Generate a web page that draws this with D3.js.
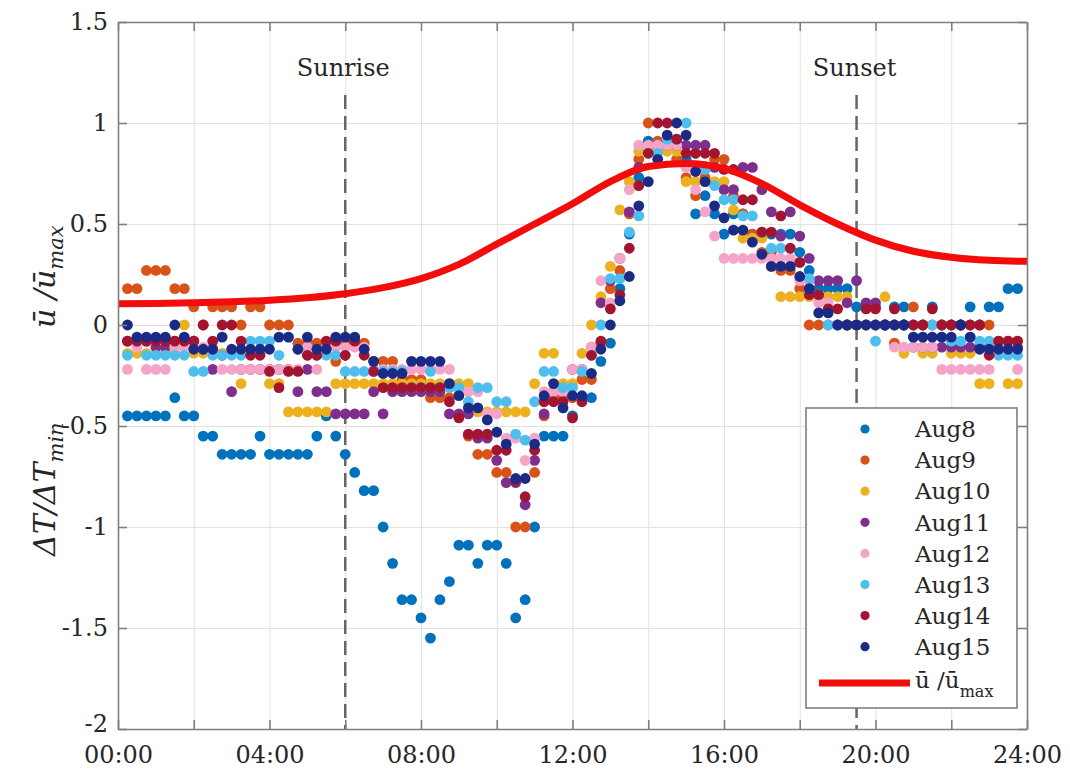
<!DOCTYPE html>
<html>
<head>
<meta charset="utf-8">
<script src="https://cdn.jsdelivr.net/npm/d3@7"></script>
<style>
  body { margin: 0; background: #fff; }
  svg { display: block; }
</style>
</head>
<body>
<svg id="chart" width="1070" height="772"></svg>
<script>
// Sampling grid: 15-minute readings from 00:15 to 23:45 (hours of day)
const hours = d3.range(1, 96).map(i => i / 4);

// Normalised temperature difference ΔT/ΔTmin for each day
const aug8 = [
  -0.45,-0.45,-0.45,-0.45,-0.45,-0.36,-0.45,-0.45,-0.55,-0.55,
  -0.64,-0.64,-0.64,-0.64,-0.55,-0.64,-0.64,-0.64,-0.64,-0.64,
  -0.55,-0.45,-0.55,-0.64,-0.73,-0.82,-0.82,-1.00,-1.18,-1.36,
  -1.36,-1.45,-1.55,-1.36,-1.27,-1.09,-1.09,-1.18,-1.09,-1.09,
  -1.18,-1.45,-1.36,-1.00,-0.55,-0.55,-0.55,-0.45,-0.36,-0.36,
  -0.18,-0.09,0.18,0.45,0.73,0.91,0.86,0.91,0.91,0.82,
  0.55,0.64,0.55,0.45,0.55,0.55,0.45,0.45,0.45,0.45,
  0.45,0.36,0.27,0.18,0.18,0.18,0.18,0.09,0.09,0.09,
  0.00,0.09,0.09,0.00,0.00,0.09,0.00,0.00,0.00,0.09,
  0.00,0.09,0.09,0.18,0.18
];
const aug9 = [
  0.18,0.18,0.27,0.27,0.27,0.18,0.18,0.09,0.00,0.09,
  0.09,0.09,0.00,0.09,0.09,0.00,0.00,0.00,-0.09,-0.09,
  -0.09,-0.09,-0.18,-0.09,-0.09,-0.09,-0.18,-0.18,-0.18,-0.27,
  -0.27,-0.27,-0.36,-0.36,-0.36,-0.45,-0.55,-0.64,-0.64,-0.73,
  -0.73,-1.00,-1.00,-0.73,-0.45,-0.36,-0.36,-0.36,-0.27,-0.27,
  -0.09,0.18,0.27,0.55,0.82,1.00,0.91,0.91,0.82,0.73,
  0.64,0.73,0.82,0.82,0.64,0.55,0.45,0.36,0.36,0.27,
  0.27,0.18,0.00,0.00,0.00,0.00,0.00,0.00,0.00,0.00,
  0.00,-0.09,0.00,0.09,0.00,0.00,0.00,0.00,0.00,0.00,
  0.00,0.00,-0.08,-0.08,-0.08
];
const aug10 = [
  -0.14,-0.14,-0.14,-0.14,-0.14,-0.14,0.00,-0.14,-0.14,-0.14,
  -0.14,-0.14,-0.29,-0.14,-0.14,-0.29,-0.29,-0.43,-0.43,-0.43,
  -0.43,-0.43,-0.29,-0.29,-0.29,-0.29,-0.29,-0.29,-0.29,-0.29,
  -0.29,-0.29,-0.29,-0.29,-0.29,-0.29,-0.29,-0.43,-0.43,-0.43,
  -0.43,-0.43,-0.43,-0.29,-0.14,-0.14,-0.29,-0.29,-0.14,0.00,
  0.14,0.29,0.57,0.71,0.86,0.86,0.86,0.86,0.86,0.71,
  0.71,0.71,0.71,0.71,0.57,0.43,0.43,0.43,0.29,0.14,
  0.14,0.14,0.14,0.14,0.14,0.14,0.14,0.00,0.00,0.00,
  0.14,0.00,-0.14,0.00,-0.14,-0.14,0.00,-0.14,-0.14,-0.14,
  -0.29,-0.29,-0.14,-0.29,-0.29
];
const aug11 = [
  -0.08,-0.08,-0.08,-0.11,-0.11,-0.08,-0.08,-0.08,-0.12,-0.22,
  -0.15,-0.33,-0.22,-0.22,-0.22,-0.22,-0.22,-0.22,-0.33,-0.22,
  -0.33,-0.33,-0.44,-0.44,-0.44,-0.44,-0.33,-0.44,-0.33,-0.33,
  -0.33,-0.33,-0.33,-0.33,-0.44,-0.44,-0.44,-0.56,-0.56,-0.67,
  -0.78,-0.78,-0.89,-0.67,-0.44,-0.33,-0.33,-0.22,-0.22,-0.11,
  0.11,0.22,0.33,0.56,0.78,0.89,0.89,0.89,0.89,0.89,
  0.89,0.89,0.78,0.67,0.67,0.78,0.78,0.67,0.56,0.44,
  0.56,0.44,0.33,0.22,0.22,0.22,0.11,0.22,0.11,0.11,
  0.00,0.00,0.00,-0.11,-0.11,-0.11,-0.11,-0.11,-0.11,-0.11,
  -0.11,-0.11,-0.11,-0.11,-0.11
];
const aug12 = [
  -0.22,-0.11,-0.22,-0.22,-0.22,-0.11,-0.11,-0.11,-0.11,-0.11,
  -0.22,-0.22,-0.22,-0.22,-0.22,-0.22,-0.22,-0.22,-0.22,-0.11,
  -0.22,-0.11,-0.11,-0.11,-0.11,-0.11,-0.22,-0.22,-0.22,-0.22,
  -0.22,-0.22,-0.22,-0.22,-0.22,-0.33,-0.33,-0.33,-0.44,-0.44,
  -0.56,-0.56,-0.67,-0.56,-0.33,-0.33,-0.33,-0.22,-0.22,-0.11,
  0.22,0.11,0.33,0.67,0.89,0.89,0.89,0.89,0.89,0.78,
  0.67,0.56,0.44,0.33,0.33,0.33,0.33,0.33,0.33,0.33,
  0.33,0.22,0.22,0.11,0.11,0.00,0.00,0.00,0.00,0.00,
  0.00,-0.11,-0.11,-0.11,-0.11,-0.11,-0.22,-0.22,-0.22,-0.22,
  -0.22,-0.22,-0.11,-0.11,-0.22
];
const aug13 = [
  -0.15,-0.08,-0.15,-0.15,-0.15,-0.15,-0.15,-0.23,-0.23,-0.15,
  -0.15,-0.15,-0.15,-0.08,-0.08,-0.08,-0.15,-0.06,-0.12,-0.15,
  -0.15,-0.15,-0.15,-0.23,-0.23,-0.23,-0.23,-0.23,-0.23,-0.23,
  -0.31,-0.31,-0.23,-0.31,-0.31,-0.31,-0.38,-0.31,-0.31,-0.38,
  -0.38,-0.54,-0.57,-0.38,-0.23,-0.23,-0.31,-0.31,-0.23,-0.15,
  0.00,0.23,0.23,0.46,0.54,0.85,0.85,0.92,0.92,1.00,
  0.85,0.77,0.69,0.62,0.62,0.54,0.54,0.46,0.38,0.38,
  0.38,0.31,0.23,0.15,0.00,0.00,0.00,0.00,0.00,-0.08,
  0.00,0.00,0.00,-0.06,-0.06,0.00,-0.06,-0.08,-0.08,-0.06,
  -0.08,-0.08,-0.15,-0.15,-0.15
];
const aug14 = [
  -0.08,-0.08,-0.08,-0.08,-0.08,-0.08,-0.08,-0.08,0.00,-0.08,
  0.00,0.00,-0.08,-0.15,-0.15,-0.23,-0.31,-0.23,-0.23,-0.15,
  -0.15,-0.08,-0.08,-0.15,-0.08,-0.15,-0.23,-0.31,-0.31,-0.31,
  -0.31,-0.31,-0.31,-0.31,-0.38,-0.46,-0.54,-0.54,-0.54,-0.62,
  -0.62,-0.77,-0.85,-0.62,-0.38,-0.38,-0.38,-0.46,-0.38,-0.15,
  -0.08,0.08,0.15,0.38,0.69,0.85,1.00,1.00,0.92,0.85,
  0.85,0.85,0.85,0.77,0.77,0.62,0.62,0.46,0.46,0.54,
  0.38,0.31,0.15,0.15,0.08,0.08,0.00,0.00,0.08,0.08,
  0.00,0.08,0.00,0.00,0.00,0.08,0.00,0.00,0.00,0.00,
  0.00,-0.15,-0.08,-0.08,-0.08
];
const aug15 = [
  0.00,-0.06,-0.06,-0.06,-0.06,0.00,-0.06,-0.12,-0.12,-0.12,
  -0.06,-0.12,-0.12,-0.12,-0.12,-0.12,-0.06,-0.06,-0.12,-0.06,
  -0.12,-0.12,-0.06,-0.06,-0.06,-0.12,-0.18,-0.24,-0.24,-0.24,
  -0.18,-0.18,-0.18,-0.18,-0.29,-0.35,-0.41,-0.41,-0.47,-0.53,
  -0.59,-0.76,-0.76,-0.59,-0.35,-0.29,-0.41,-0.35,-0.35,-0.24,
  -0.12,0.00,0.12,0.24,0.59,0.71,0.82,0.94,1.00,0.94,
  0.76,0.71,0.59,0.53,0.47,0.47,0.41,0.35,0.29,0.29,
  0.29,0.24,0.18,0.06,0.06,0.00,0.00,0.00,0.00,0.00,
  0.00,0.00,0.00,-0.06,-0.06,-0.06,-0.06,-0.06,0.00,-0.06,
  -0.12,-0.12,-0.12,-0.12,-0.12
];

const dayNames  = ["Aug8", "Aug9", "Aug10", "Aug11", "Aug12", "Aug13", "Aug14", "Aug15"];
const dayValues = [aug8, aug9, aug10, aug11, aug12, aug13, aug14, aug15];
const dayColors = ["#0072BD", "#D95319", "#EDB120", "#7E2F8E", "#F5A3C7", "#4DBEEE", "#A2142F", "#1B2A84"];

// Mean wind speed normalised by its maximum, hourly
const windHours = d3.range(0, 25);
const windRatio = [
  0.105, 0.107, 0.110, 0.115, 0.123, 0.135, 0.155, 0.185, 0.230, 0.300,
  0.400, 0.500, 0.600, 0.710, 0.785, 0.800, 0.775, 0.700, 0.595, 0.500,
  0.420, 0.365, 0.335, 0.320, 0.315
];

// Axes ticks
const xTickHours  = d3.range(0, 25, 2);
const xLabelHours = [0, 4, 8, 12, 16, 20, 24];
const yTicks      = [-2, -1.5, -1, -0.5, 0, 0.5, 1, 1.5];

// Sunrise / sunset markers (hour of day)
const sunEvents = [{ label: "Sunrise", hour: 6 }, { label: "Sunset", hour: 19.5 }];

const FONT = "'DejaVu Serif', 'Liberation Serif', serif";
const AXIS_COLOR = "#7f7f7f";
const TEXT_COLOR = "#262626";

const svg = d3.select("#chart");
const plotLeft = 118, plotRight = 1027, plotTop = 22, plotBottom = 729;

const x = d3.scaleLinear().domain([0, 24]).range([plotLeft, plotRight]);
const y = d3.scaleLinear().domain([-2, 1.5]).range([plotBottom, plotTop]);

// Grid lines
const gridX = svg.append("g").attr("transform", `translate(0,${plotBottom})`)
  .call(d3.axisBottom(x).tickValues(xTickHours).tickSize(-(plotBottom - plotTop)).tickFormat(""));
const gridY = svg.append("g").attr("transform", `translate(${plotLeft},0)`)
  .call(d3.axisLeft(y).tickValues(yTicks).tickSize(-(plotRight - plotLeft)).tickFormat(""));
[gridX, gridY].forEach(g => {
  g.select(".domain").remove();
  g.selectAll(".tick line").attr("stroke", "#e2e2e2").attr("stroke-width", 1);
});

// Sunrise / sunset dashed lines and labels
svg.append("g").selectAll("line").data(sunEvents).join("line")
  .attr("x1", d => x(d.hour)).attr("x2", d => x(d.hour))
  .attr("y1", 95).attr("y2", plotBottom)
  .attr("stroke", "#666").attr("stroke-width", 2.5)
  .attr("stroke-dasharray", "14,7");
svg.append("g").selectAll("text").data(sunEvents).join("text")
  .attr("x", d => x(d.hour) - 2).attr("y", 76)
  .attr("text-anchor", "middle")
  .attr("font-family", FONT).attr("font-size", 24).attr("fill", TEXT_COLOR)
  .text(d => d.label);

// Scatter of daily temperature ratios
const dots = svg.append("g");
dayValues.forEach((vals, k) => {
  dots.append("g").selectAll("circle").data(vals.map((v, i) => [hours[i], v])).join("circle")
    .attr("cx", d => x(d[0])).attr("cy", d => y(d[1])).attr("r", 5.4)
    .attr("fill", dayColors[k]);
});

// Wind-speed ratio curve
const windLine = d3.line().x((d, i) => x(windHours[i])).y(d => y(d)).curve(d3.curveMonotoneX);
svg.append("path").datum(windRatio)
  .attr("d", windLine).attr("fill", "none")
  .attr("stroke", "#f20c0c").attr("stroke-width", 7);

// Axes (ticks pointing inward, box on all four sides)
const fmtHour = h => String(h).padStart(2, "0") + ":00";
const fmtY = v => String(v);

const axB = svg.append("g").attr("transform", `translate(0,${plotBottom})`)
  .call(d3.axisBottom(x).tickValues(xTickHours).tickSizeInner(-9).tickSizeOuter(0).tickPadding(17)
    .tickFormat(h => xLabelHours.includes(h) ? fmtHour(h) : ""));
const axT = svg.append("g").attr("transform", `translate(0,${plotTop})`)
  .call(d3.axisTop(x).tickValues(xTickHours).tickSizeInner(-9).tickSizeOuter(0).tickFormat(""));
const axL = svg.append("g").attr("transform", `translate(${plotLeft},0)`)
  .call(d3.axisLeft(y).tickValues(yTicks).tickSizeInner(-9).tickSizeOuter(0).tickPadding(10).tickFormat(fmtY));
const axR = svg.append("g").attr("transform", `translate(${plotRight},0)`)
  .call(d3.axisRight(y).tickValues(yTicks).tickSizeInner(-9).tickSizeOuter(0).tickFormat(""));
[axB, axT, axL, axR].forEach(g => {
  g.select(".domain").attr("stroke", AXIS_COLOR).attr("stroke-width", 1.6);
  g.selectAll(".tick line").attr("stroke", AXIS_COLOR).attr("stroke-width", 1.6);
  g.selectAll(".tick text").attr("font-family", FONT).attr("font-size", 24).attr("fill", TEXT_COLOR);
});
// keep the lowest y label clear of the first time label
axL.selectAll(".tick text").filter(d => d === -2).attr("dy", "0.1em");

// Y-axis title: two stacked ratios, rotated
const yTitle = svg.append("g").attr("font-family", FONT).attr("font-style", "italic").attr("fill", TEXT_COLOR);
const t1 = yTitle.append("text").attr("transform", "translate(55,556) rotate(-90)").attr("font-size", 30);
t1.append("tspan").text("ΔT/ΔT");
t1.append("tspan").attr("font-size", 21).attr("dy", 8).text("min");
const t2 = yTitle.append("text").attr("transform", "translate(55,328) rotate(-90)").attr("font-size", 30);
t2.append("tspan").text("ū /ū");
t2.append("tspan").attr("font-size", 21).attr("dy", 8).text("max");

// Legend
const legend = svg.append("g");
legend.append("rect")
  .attr("x", 806).attr("y", 408).attr("width", 211).attr("height", 300)
  .attr("fill", "#fff").attr("stroke", AXIS_COLOR).attr("stroke-width", 1.6);
const rowY = i => 429 + i * 31.1;
dayNames.forEach((name, k) => {
  legend.append("circle").attr("cx", 865).attr("cy", rowY(k)).attr("r", 4.6).attr("fill", dayColors[k]);
  legend.append("text").attr("x", 915).attr("y", rowY(k)).attr("dy", "0.36em")
    .attr("font-family", FONT).attr("font-size", 23).attr("fill", TEXT_COLOR).text(name);
});
legend.append("line").attr("x1", 819).attr("x2", 910).attr("y1", 683).attr("y2", 683)
  .attr("stroke", "#f20c0c").attr("stroke-width", 7);
const lt = legend.append("text").attr("x", 915).attr("y", 683).attr("dy", "0.2em")
  .attr("font-family", FONT).attr("font-size", 23).attr("fill", TEXT_COLOR);
lt.append("tspan").text("ū /ū");
lt.append("tspan").attr("font-size", 16).attr("dy", 9).text("max");
</script>
</body>
</html>
